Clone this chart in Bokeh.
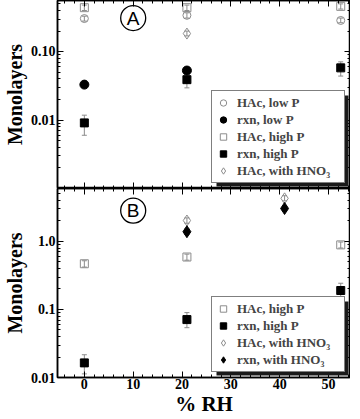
import math
from bokeh.plotting import figure
from bokeh.layouts import column
from bokeh.models import (Range1d, LogAxis, LinearAxis, FixedTicker, SingleIntervalTicker,
                          Legend, LegendItem, Whisker, ColumnDataSource, TeeHead, BoxAnnotation)
from bokeh.core.properties import value
from bokeh.embed import file_html
from bokeh.resources import INLINE

# ---------------- data (panel A) ----------------
rh_A = [0, 21, 52.5]
hac_lowP_A = [0.305, 0.34, 0.286]
hac_lowP_A_lo = [0.28, 0.31, 0.265]
hac_lowP_A_hi = [0.33, 0.37, 0.31]
rxn_lowP_A_x = [0, 21]
rxn_lowP_A = [0.033, 0.053]
hac_highP_A = [0.44, 0.44, 0.46]
hac_highP_A_lo = [0.40, 0.40, 0.42]
hac_highP_A_hi = [0.48, 0.48, 0.50]
rxn_highP_A = [0.0091, 0.039, 0.058]
rxn_highP_A_lo = [0.006, 0.0296, 0.044]
rxn_highP_A_hi = [0.0118, 0.0475, 0.071]
hac_hno3_A_x = [21]
hac_hno3_A = [0.184]
hac_hno3_A_lo = [0.17]
hac_hno3_A_hi = [0.20]

# ---------------- data (panel B) ----------------
rh_B = [0, 21, 52.5]
hac_highP_B = [0.47, 0.59, 0.89]
hac_highP_B_lo = [0.42, 0.53, 0.80]
hac_highP_B_hi = [0.52, 0.65, 0.98]
rxn_highP_B = [0.0164, 0.071, 0.19]
rxn_highP_B_lo = [0.0113, 0.054, 0.141]
rxn_highP_B_hi = [0.0216, 0.090, 0.243]
hno3_B_x = [21, 41]
hac_hno3_B = [2.03, 4.3]
hac_hno3_B_lo = [1.85, 3.95]
hac_hno3_B_hi = [2.22, 4.7]
rxn_hno3_B = [1.39, 3.05]
rxn_hno3_B_lo = [1.28, 2.8]
rxn_hno3_B_hi = [1.52, 3.3]

yA_ticks = [0.001, 0.01, 0.1]
yA_labels = {0.001: " ", 0.01: "0.01", 0.1: "0.10"}
yB_ticks = [0.01, 0.1, 1.0]
yB_labels = {0.01: "0.01", 0.1: "0.1", 1.0: "1.0"}

legend_A = ["HAc, low P", "rxn, low P", "HAc, high P", "rxn, high P", "HAc, with HNO\u2083"]
legend_B = ["HAc, high P", "rxn, high P", "HAc, with HNO\u2083", "rxn, with HNO\u2083"]

SERIF = "Liberation Serif"
GRAY = "#8c8c8c"

# layout geometry (pixels)
FRAME_W = 293
X_RANGE = (-5.5, 54.5)
LEG_PAD = 3
LEG_ROW = 17
LEG_GLYPH_W = 16
LEG_STANDOFF = 6
LEG_LABEL_W = 104
LEG_MARGIN = 5
SHADOW = 3


def log_minors(lo_exp, hi_exp):
    out = []
    for e in range(lo_exp, hi_exp + 1):
        for m in range(2, 10):
            out.append(m * 10 ** e)
    return out


def style_axis(ax, labels=True, size="14px"):
    ax.major_tick_in = 6
    ax.major_tick_out = 0
    ax.minor_tick_in = 3
    ax.minor_tick_out = 0
    ax.axis_line_color = "black"
    ax.axis_line_width = 1.5
    ax.major_tick_line_color = "black"
    ax.minor_tick_line_color = "black"
    ax.major_label_text_font = SERIF
    ax.major_label_text_font_style = "bold"
    ax.major_label_text_color = "black"
    ax.axis_label_text_font = SERIF
    ax.axis_label_text_font_style = "bold"
    ax.axis_label_text_color = "black"
    if labels:
        ax.major_label_text_font_size = size
        ax.major_label_standoff = 2
    else:
        ax.major_label_text_font_size = "1px"
        ax.major_label_text_alpha = 0
        ax.major_label_standoff = 0


def make_fig(yrange, yticks, ylabels, fh, minors, xlabels):
    p = figure(frame_width=FRAME_W, frame_height=fh,
               x_range=Range1d(*X_RANGE), y_range=Range1d(*yrange),
               y_axis_type="log", output_backend="svg", toolbar_location=None,
               min_border_left=0, min_border_right=0, min_border_top=0, min_border_bottom=0)
    p.grid.visible = False
    p.outline_line_color = "black"
    p.outline_line_width = 1.5
    p.background_fill_color = "white"
    p.border_fill_color = "white"
    xt = SingleIntervalTicker(interval=10, num_minor_ticks=5)
    yt = FixedTicker(ticks=yticks, minor_ticks=minors)
    p.xaxis.ticker = xt
    p.yaxis.ticker = yt
    p.yaxis.major_label_overrides = ylabels
    for ax in p.yaxis:
        style_axis(ax, True, "14px")
        ax.axis_label = "Monolayers"
        ax.axis_label_text_font_size = "20px"
        ax.axis_label_standoff = 2
    for ax in p.xaxis:
        style_axis(ax, xlabels, "14px")
    ra = LogAxis(ticker=yt)
    style_axis(ra, False)
    p.add_layout(ra, "right")
    ta = LinearAxis(ticker=xt)
    style_axis(ta, False)
    p.add_layout(ta, "above")
    return p


def whisk(p, x, lo, hi, color=GRAY):
    src = ColumnDataSource(dict(x=x, lo=lo, hi=hi))
    w = Whisker(source=src, base="x", lower="lo", upper="hi", line_color=color, line_width=1,
                upper_head=TeeHead(size=5, line_color=color, line_width=1),
                lower_head=TeeHead(size=5, line_color=color, line_width=1))
    p.add_layout(w)


def add_legend(p, labels, renderers, yrange, fh):
    leg = Legend(items=[LegendItem(label=t, renderers=[r]) for t, r in zip(labels, renderers)],
                 location="bottom_right")
    leg.label_text_font = SERIF
    leg.label_text_font_style = "bold"
    leg.label_text_font_size = "13px"
    leg.label_height = LEG_ROW
    leg.glyph_height = LEG_ROW
    leg.glyph_width = LEG_GLYPH_W
    leg.label_width = LEG_LABEL_W
    leg.spacing = 0
    leg.padding = LEG_PAD
    leg.label_standoff = LEG_STANDOFF
    leg.border_line_color = "black"
    leg.border_line_width = 1.5
    leg.background_fill_color = "white"
    leg.background_fill_alpha = 1
    leg.margin = LEG_MARGIN

    # drop shadow behind the legend box (pixel geometry -> axis units)
    w = 2 * LEG_PAD + LEG_GLYPH_W + LEG_STANDOFF + LEG_LABEL_W
    h = 2 * LEG_PAD + LEG_ROW * len(labels)
    x0, x1 = X_RANGE
    l0, l1 = math.log10(yrange[0]), math.log10(yrange[1])

    def xd(px):
        return x0 + px / FRAME_W * (x1 - x0)

    def yd(px):
        return 10 ** (l0 + px / fh * (l1 - l0))

    right_px = FRAME_W - LEG_MARGIN
    shadow = BoxAnnotation(left=xd(right_px - w + SHADOW), right=xd(right_px + SHADOW),
                           bottom=yd(LEG_MARGIN - SHADOW), top=yd(LEG_MARGIN + h - SHADOW),
                           fill_color="#1a1a1a", fill_alpha=1, line_color=None,
                           editable=False)
    p.add_layout(shadow)
    p.add_layout(leg)


# ---------------- panel A ----------------
FH_A = 188
YR_A = (0.001, 0.56)
pA = make_fig(YR_A, yA_ticks, yA_labels, FH_A, log_minors(-3, -1), False)
whisk(pA, rh_A, hac_lowP_A_lo, hac_lowP_A_hi)
whisk(pA, rh_A, hac_highP_A_lo, hac_highP_A_hi)
whisk(pA, rh_A, rxn_highP_A_lo, rxn_highP_A_hi)
whisk(pA, hac_hno3_A_x, hac_hno3_A_lo, hac_hno3_A_hi)
rA1 = pA.scatter(rh_A, hac_lowP_A, marker="circle", size=8, fill_color=None, line_color=GRAY, line_width=1)
rA2 = pA.scatter(rxn_lowP_A_x, rxn_lowP_A, marker="circle", size=9, fill_color="black", line_color="black")
rA3 = pA.scatter(rh_A, hac_highP_A, marker="square", size=8, fill_color=None, line_color=GRAY, line_width=1)
rA4 = pA.scatter(rh_A, rxn_highP_A, marker="square", size=8, fill_color="black", line_color="black")
rA5 = pA.scatter(hac_hno3_A_x, hac_hno3_A, marker="diamond", size=11, fill_color=None,
                 line_color=GRAY, line_width=1)
pA.scatter([10], [0.31], marker="circle", size=25, fill_color=None, line_color="black", line_width=1.3)
pA.text([10], [0.31], text=["A"], text_font=value("Liberation Sans"), text_font_size="19px",
        text_align="center", text_baseline="middle", text_color="black")
add_legend(pA, legend_A, [rA1, rA2, rA3, rA4, rA5], YR_A, FH_A)

# ---------------- panel B ----------------
FH_B = 189
YR_B = (0.01, 6.0)
pB = make_fig(YR_B, yB_ticks, yB_labels, FH_B, log_minors(-2, 0), True)
xb = pB.below[0]
xb.axis_label = "% RH"
xb.axis_label_text_font_size = "21px"
xb.axis_label_standoff = 0
xb.major_label_standoff = 1
whisk(pB, rh_B, hac_highP_B_lo, hac_highP_B_hi)
whisk(pB, rh_B, rxn_highP_B_lo, rxn_highP_B_hi)
whisk(pB, hno3_B_x, hac_hno3_B_lo, hac_hno3_B_hi)
whisk(pB, hno3_B_x, rxn_hno3_B_lo, rxn_hno3_B_hi, "black")
rB1 = pB.scatter(rh_B, hac_highP_B, marker="square", size=8, fill_color=None, line_color=GRAY, line_width=1)
rB2 = pB.scatter(rh_B, rxn_highP_B, marker="square", size=8, fill_color="black", line_color="black")
rB3 = pB.scatter(hno3_B_x, hac_hno3_B, marker="diamond", size=11, fill_color=None,
                 line_color=GRAY, line_width=1)
rB4 = pB.scatter(hno3_B_x, rxn_hno3_B, marker="diamond", size=12, fill_color="black",
                 line_color="black")
pB.scatter([10], [2.84], marker="circle", size=25, fill_color=None, line_color="black", line_width=1.3)
pB.text([10], [2.84], text=["B"], text_font=value("Liberation Sans"), text_font_size="19px",
        text_align="center", text_baseline="middle", text_color="black")
add_legend(pB, legend_B, [rB1, rB2, rB3, rB4], YR_B, FH_B)

layout = column(pA, pB, spacing=0)
open("out.html", "w").write(file_html(layout, INLINE))
